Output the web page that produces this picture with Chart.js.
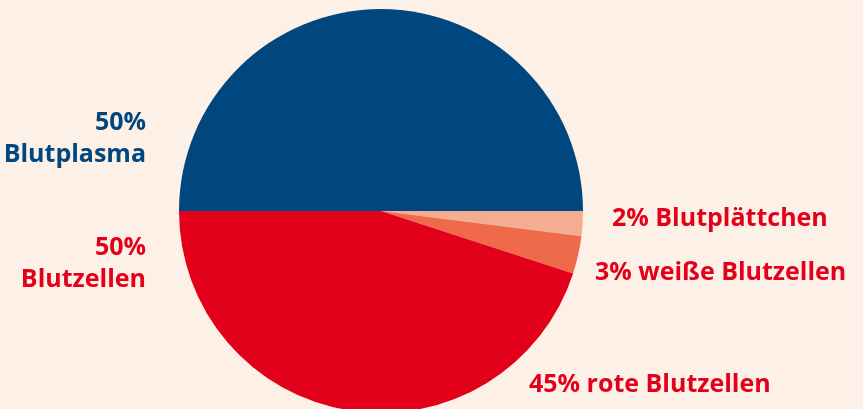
<!DOCTYPE html>
<html>
<head>
<meta charset="utf-8">
<script src="https://cdn.jsdelivr.net/npm/chart.js@4"></script>
<style>
  html, body { margin: 0; padding: 0; background: #fdf0e7; overflow: hidden; }
  #wrap { position: absolute; left: 0; top: 0; width: 863px; height: 422px; }
</style>
</head>
<body>
<div id="wrap"><canvas id="canvas" width="863" height="422"></canvas></div>
<script>
// Anteile am Blut (in %)
var categories = ["Blutplasma", "Blutplättchen", "weiße Blutzellen", "rote Blutzellen"];
var values = [50, 2, 3, 45];
var colors = ["#00467f", "#f5ad91", "#ee6a4a", "#e2001a"];

// Beschriftungen
var labelLines = [
    ["50%", "Blutplasma"],
    ["50%", "Blutzellen"],
    ["2% Blutplättchen"],
    ["3% weiße Blutzellen"],
    ["45% rote Blutzellen"]
];
var labelColors = ["#00467f", "#e2001a", "#e2001a", "#e2001a", "#e2001a"];

var pieLabels = {
    id: 'pieLabels',
    afterDraw: function (chart) {
        var arc = chart.getDatasetMeta(0).data[0];
        var cx = arc.x, cy = arc.y, r = arc.outerRadius;
        var ctx = chart.ctx;
        ctx.save();
        ctx.font = "bold 25px 'Open Sans', 'DejaVu Sans', sans-serif";
        ctx.textBaseline = 'alphabetic';

        // links, rechtsbündig
        ctx.textAlign = 'right';
        var lx = cx - r - 33;
        ctx.fillStyle = labelColors[0];
        ctx.fillText(labelLines[0][0], lx, cy - 81);
        ctx.fillText(labelLines[0][1], lx, cy - 49);
        ctx.fillStyle = labelColors[1];
        ctx.fillText(labelLines[1][0], lx, cy + 44);
        ctx.fillText(labelLines[1][1], lx, cy + 76);

        // rechts, linksbündig
        ctx.textAlign = 'left';
        ctx.fillStyle = labelColors[2];
        ctx.fillText(labelLines[2][0], cx + r + 29, cy + 15);
        ctx.fillStyle = labelColors[3];
        ctx.fillText(labelLines[3][0], cx + r + 12, cy + 69);
        ctx.fillStyle = labelColors[4];
        ctx.fillText(labelLines[4][0], cx + 148, cy + 181);
        ctx.restore();
    }
};

window.onload = function () {
    var ctx = document.getElementById('canvas').getContext('2d');
    var chart = new Chart(ctx, {
        type: 'pie',
        data: {
            labels: categories,
            datasets: [{
                data: values,
                backgroundColor: colors,
                borderWidth: 0
            }]
        },
        options: {
            responsive: false,
            animation: false,
            rotation: -90,
            layout: { padding: { top: 9, bottom: 9, left: 0, right: 101 } },
            plugins: {
                legend: { display: false },
                tooltip: { enabled: false }
            }
        },
        plugins: [pieLabels]
    });
}
</script>
</body>
</html>
